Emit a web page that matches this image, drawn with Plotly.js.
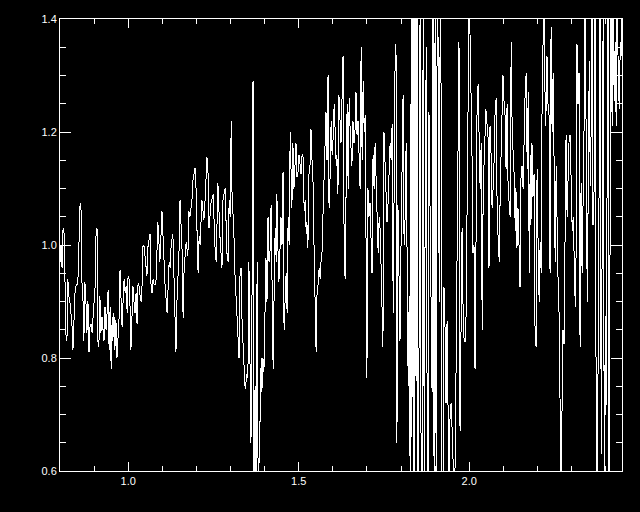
<!DOCTYPE html>
<html>
<head>
<meta charset="utf-8">
<script src="https://cdn.plot.ly/plotly-3.0.1.min.js"></script>
<style>html,body{margin:0;padding:0;background:#000;}#chart{width:640px;height:512px;}
#chart path.js-line{shape-rendering:crispEdges;}</style>
</head>
<body>
<div id="chart"></div>
<script>
// Wavelength (x) and flux (y)
const wavelength = [
0.800,0.803,0.806,0.809,0.812,0.815,0.818,0.821,0.823,0.826,0.829,0.832,0.835,0.838,0.841,0.844,0.847,0.850,0.853,0.856,
0.859,0.862,0.865,0.867,0.870,0.873,0.876,0.879,0.882,0.885,0.888,0.891,0.894,0.897,0.900,0.903,0.906,0.909,0.911,0.914,
0.917,0.920,0.923,0.926,0.929,0.932,0.935,0.938,0.941,0.944,0.947,0.950,0.953,0.955,0.958,0.961,0.964,0.967,0.970,0.973,
0.976,0.979,0.982,0.985,0.988,0.991,0.994,0.997,0.999,1.002,1.005,1.008,1.011,1.014,1.017,1.020,1.023,1.026,1.029,1.032,
1.035,1.038,1.041,1.043,1.046,1.049,1.052,1.055,1.058,1.061,1.064,1.067,1.070,1.073,1.076,1.079,
1.082,1.087,1.093,1.099,1.105,1.108,1.114,1.120,1.123,1.126,1.131,1.137,1.140,1.143,1.149,1.152,1.158,1.161,1.164,1.170,
1.175,1.178,1.181,1.187,1.190,1.196,1.199,1.202,1.205,1.208,1.211,1.216,1.222,1.225,1.231,1.234,1.237,1.243,1.249,1.255,
1.258,1.263,1.269,1.275,1.278,1.284,1.290,1.293,1.296,1.299,1.302,1.304,1.310,1.313,1.319,1.322,1.325,1.328,1.331,1.334,
1.337,1.340,1.343,1.346,1.349,1.351,
1.354,1.357,1.360,1.363,1.366,1.369,1.372,1.375,1.378,1.381,1.384,1.387,1.390,1.392,1.395,1.398,1.401,1.404,1.407,1.410,
1.413,1.416,1.419,1.422,1.425,1.428,1.431,1.434,1.436,1.439,1.442,1.445,1.448,1.451,1.454,1.457,1.460,1.463,1.466,1.469,
1.472,1.475,1.478,1.480,1.483,1.486,1.489,1.492,1.495,1.498,1.501,1.504,1.507,1.510,1.513,1.516,1.519,1.522,1.524,1.527,
1.530,1.533,1.536,1.539,1.542,1.545,1.548,1.551,1.554,1.557,1.560,1.563,1.566,1.568,1.571,1.574,1.577,1.580,1.583,1.586,
1.589,1.592,1.595,1.598,1.601,1.604,1.607,1.610,1.612,1.615,1.618,1.621,1.624,
1.627,1.630,1.633,1.636,1.639,1.642,1.645,1.648,1.651,1.654,1.656,1.659,1.662,1.665,1.668,1.671,1.674,1.677,1.680,1.683,
1.686,1.689,1.692,1.695,1.698,1.700,1.703,1.706,1.709,1.712,1.715,1.718,1.721,1.724,1.727,1.730,1.733,1.736,1.739,1.742,
1.744,1.747,1.750,1.753,1.756,1.759,1.762,1.765,1.768,1.771,1.774,1.777,1.780,1.783,1.786,1.788,1.791,1.794,1.797,1.800,
1.803,1.806,1.809,1.812,1.815,1.818,1.821,1.824,1.827,1.830,1.832,1.835,1.838,1.841,1.844,1.847,1.850,1.853,1.856,1.859,
1.862,1.865,1.868,1.871,1.874,1.876,1.879,1.882,1.885,1.888,1.891,1.894,1.897,1.900,1.903,
1.906,1.909,1.912,1.915,1.918,1.920,1.923,1.926,1.929,1.932,1.935,1.938,1.941,1.944,1.947,1.950,1.953,1.956,1.959,1.962,
1.964,1.967,1.970,1.973,1.976,1.979,1.982,1.985,1.988,1.991,1.994,1.997,2.000,2.003,2.005,2.008,2.011,2.014,2.017,2.020,
2.023,2.026,2.029,2.032,2.035,2.038,2.041,2.044,2.047,2.049,2.052,2.055,2.058,2.061,2.064,2.067,2.070,2.073,2.076,2.079,
2.082,2.085,2.088,2.091,2.093,2.096,2.099,2.102,2.105,2.108,2.111,2.114,2.117,2.120,2.123,2.126,2.129,2.132,2.135,2.137,
2.140,2.143,2.146,2.149,2.152,2.155,2.158,2.161,2.164,2.167,2.170,2.173,2.176,2.179,2.181,2.184,2.187,2.190,2.193,2.196,
2.199,2.202,2.205,2.208,2.211,2.214,2.217,2.220,2.223,2.225,2.228,2.231,2.234,2.237,2.240,2.243,2.246,2.249,2.252,2.255,
2.258,2.261,2.264,2.267,2.269,2.272,2.275,2.278,2.281,2.284,2.287,2.290,2.293,2.296,2.299,2.302,2.305,2.308,2.311,2.313,
2.316,2.319,2.322,2.325,2.328,2.331,2.334,2.337,2.340,2.343,2.346,2.349,2.352,2.355,2.357,2.360,2.363,2.366,2.369,2.372,
2.375,2.378,2.381,2.384,2.387,2.390,2.393,2.396,2.399,2.401,2.404,2.407,2.410,2.413,2.416,2.419,2.422,2.425,2.428,2.431,
2.434,2.437,2.440,2.443,2.445,2.448
];
const flux = [
0.97,1.00,0.96,1.03,1.02,0.95,0.83,0.84,0.94,0.91,0.90,0.88,0.86,0.815,0.88,0.915,0.927,0.93,0.945,1.03,
1.075,1.06,0.91,0.915,0.83,0.935,0.90,0.845,0.90,0.81,0.855,0.86,0.845,0.868,0.89,0.927,1.03,1.027,0.83,0.82,
0.91,0.845,0.873,0.85,0.83,0.89,0.85,0.88,0.92,0.815,0.89,0.78,0.873,0.83,0.88,0.815,0.868,0.80,0.84,0.868,
0.956,0.90,0.855,0.90,0.94,0.915,0.927,0.88,0.94,0.945,0.90,0.815,0.90,0.927,0.90,0.88,0.915,0.86,0.933,0.927,
0.91,0.90,0.933,0.997,1.00,0.98,0.968,0.945,0.997,1.015,1.02,0.927,0.915,0.94,0.93,0.93,
0.94,1.04,0.97,1.06,0.97,0.93,0.88,0.97,0.96,1.00,1.02,0.88,0.81,0.90,0.99,1.08,0.99,0.87,0.96,1.005,
0.98,1.06,1.05,1.08,1.115,1.137,1.10,1.02,0.95,1.015,1.00,1.08,1.045,1.075,1.155,1.128,1.03,1.075,1.09,0.99,
0.97,1.11,1.015,0.96,1.08,1.10,0.98,0.97,1.08,1.05,1.22,1.10,1.02,0.95,0.88,0.83,0.80,0.95,0.96,0.86,
0.82,0.775,0.745,0.76,0.775,0.765,
0.97,0.80,0.65,0.90,1.29,0.55,0.75,0.56,0.97,0.58,0.62,0.70,0.80,0.74,0.80,0.775,0.88,0.977,0.90,1.05,
0.97,0.99,1.07,0.90,0.78,0.92,1.03,0.97,1.09,0.995,0.935,0.99,1.05,1.00,1.13,0.85,0.925,0.95,0.88,1.05,
1.00,1.20,1.12,1.065,1.18,1.10,1.14,1.18,1.12,1.13,1.16,1.14,1.125,1.16,1.155,1.06,1.08,1.02,1.04,0.995,
1.125,1.14,1.205,1.15,1.11,0.995,0.90,0.81,0.925,0.93,0.96,0.94,0.977,0.98,1.05,1.10,1.17,1.235,1.15,1.30,
1.065,1.12,1.22,1.16,1.19,1.25,1.20,1.14,1.16,1.09,1.265,1.20,1.18,
1.26,1.335,1.02,0.94,1.10,1.25,1.10,1.26,1.20,1.17,1.14,1.22,1.18,1.20,1.27,1.195,1.22,1.16,1.10,1.35,
1.15,1.29,1.20,1.23,0.84,0.765,1.10,1.05,1.075,1.00,0.95,1.16,1.10,1.18,1.12,1.03,0.985,1.05,1.025,0.95,
0.905,0.82,1.20,1.13,1.11,1.04,1.075,1.12,1.18,1.15,1.215,0.88,1.14,1.355,1.33,0.65,1.07,0.95,0.83,1.00,
1.16,1.265,1.00,1.05,1.18,0.945,0.75,0.91,0.55,1.45,0.66,1.45,0.55,1.45,0.76,1.45,0.55,0.835,1.45,0.55,
0.60,1.45,0.58,1.10,1.35,0.79,0.55,1.235,1.05,0.80,0.74,1.45,0.55,1.45,0.55,
1.45,1.35,0.90,1.45,1.235,0.55,0.58,0.925,0.855,0.72,0.865,0.71,0.55,0.71,0.72,0.67,0.58,0.55,0.62,0.81,
1.02,1.20,1.36,0.67,0.89,1.03,0.885,0.83,0.83,0.88,1.085,1.42,1.45,1.35,1.295,1.17,0.985,1.00,0.78,1.11,
1.24,1.285,1.165,1.10,1.18,0.85,1.10,1.15,1.19,1.24,1.215,1.20,0.96,1.21,1.16,1.065,1.10,1.15,1.24,1.26,
1.05,1.02,0.97,1.10,1.14,1.20,1.30,1.255,1.23,1.135,1.25,1.10,1.065,1.05,1.36,1.20,1.16,1.12,1.025,1.10,
0.995,1.065,1.00,0.925,1.125,1.14,1.10,1.20,1.27,1.305,1.135,1.27,0.95,1.16,1.035,1.18,1.085,1.125,0.85,0.82,
1.135,1.00,0.90,1.005,0.95,1.29,1.385,1.45,1.21,1.23,1.335,1.25,1.23,0.95,1.385,1.20,1.305,1.16,0.97,1.14,
0.995,0.92,0.87,0.70,0.55,0.70,0.85,0.825,1.03,1.195,1.05,1.15,1.19,1.195,1.13,1.025,1.05,0.97,0.89,0.95,
1.355,1.25,1.305,0.82,1.11,0.95,1.075,1.22,1.45,1.12,0.90,1.10,1.325,1.105,1.18,1.45,1.035,1.095,1.45,0.75,
0.55,0.80,1.04,1.45,0.63,0.985,1.45,0.55,0.875,0.70,1.24,1.45,0.55,1.135,1.45,1.21,1.45,1.255,1.36,1.21,
1.45,1.30,1.24,1.36,1.33,1.45
];
const xTickVals = [1.0, 1.5, 2.0];
const xTickText = ["1.0", "1.5", "2.0"];
const yTickVals = [0.6, 0.8, 1.0, 1.2, 1.4];
const yTickText = ["0.6", "0.8", "1.0", "1.2", "1.4"];

const tickFont = {family: "Liberation Sans, DejaVu Sans, sans-serif", size: 11, color: "#ffffff"};

Plotly.newPlot("chart", [{
  x: wavelength, y: flux, type: "scatter", mode: "lines",
  line: {color: "#ffffff", width: 1}, hoverinfo: "skip"
}], {
  width: 640, height: 512,
  paper_bgcolor: "#000000", plot_bgcolor: "#000000",
  margin: {l: 60, r: 18, t: 19, b: 41},
  showlegend: false,
  xaxis: {
    range: [0.8, 2.448], showgrid: false, zeroline: false,
    showline: true, linecolor: "#ffffff", linewidth: 1, mirror: "ticks",
    ticks: "inside", ticklen: 9, tickwidth: 1, tickcolor: "#ffffff",
    tickvals: xTickVals, ticktext: xTickText, tickfont: tickFont,
    minor: {ticks: "inside", ticklen: 5, tickwidth: 1, tickcolor: "#ffffff", dtick: 0.1, tick0: 0, showgrid: false}
  },
  yaxis: {
    range: [0.6, 1.4], showgrid: false, zeroline: false,
    showline: true, linecolor: "#ffffff", linewidth: 1, mirror: "ticks",
    ticks: "inside", ticklen: 11, tickwidth: 1, tickcolor: "#ffffff",
    tickvals: yTickVals, ticktext: yTickText, tickfont: tickFont,
    minor: {ticks: "inside", ticklen: 6, tickwidth: 1, tickcolor: "#ffffff", dtick: 0.05, tick0: 0, showgrid: false}
  }
}, {staticPlot: true, displayModeBar: false});
</script>
</body>
</html>
